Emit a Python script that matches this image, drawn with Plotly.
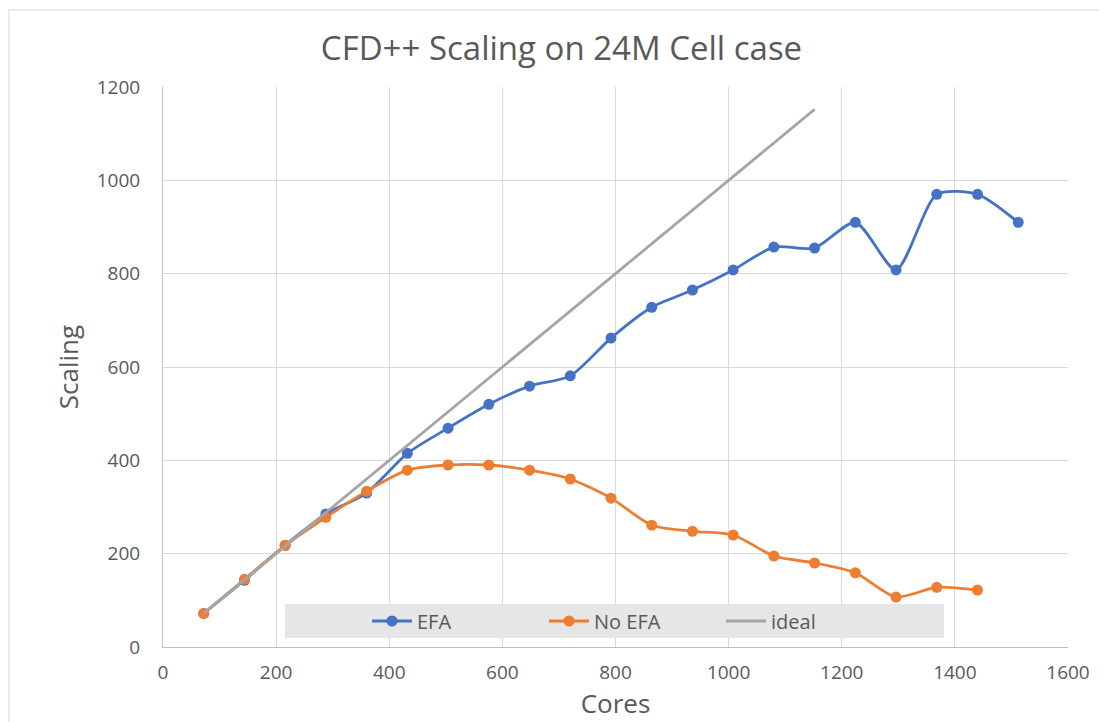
import plotly.graph_objects as go

cores = [72, 144, 216, 288, 360, 432, 504, 576, 648, 720, 792, 864, 936, 1008,
         1080, 1152, 1224, 1296, 1368, 1440, 1512]
efa = [72, 143, 218, 285, 330, 415, 469, 520, 559, 581, 662, 728, 765, 808,
       857, 855, 910, 808, 970, 970, 910]
no_efa = [72, 145, 218, 278, 334, 379, 390, 390, 379, 360, 319, 261, 248, 240,
          195, 180, 159, 107, 128, 122]
ideal_x = cores[:16]
ideal_y = cores[:16]

FONT = "Open Sans"
TXT = "#595959"

# plot area in page pixels (page has an 8px body offset)
PL, PR, PT, PB = 163, 1068, 87, 647
PW, PH = PR - PL, PB - PT


def px(x):
    return (x - PL) / PW


def py(y):
    return (PB - y) / PH


fig = go.Figure()
fig.add_trace(go.Scatter(x=cores, y=efa, name="EFA", mode="lines+markers",
                         line=dict(color="#4472C4", width=2.8, shape="spline", smoothing=0.7),
                         marker=dict(size=11, color="#4472C4")))
fig.add_trace(go.Scatter(x=cores[:len(no_efa)], y=no_efa, name="No EFA", mode="lines+markers",
                         line=dict(color="#ED7D31", width=2.8, shape="spline", smoothing=0.7),
                         marker=dict(size=11, color="#ED7D31")))
fig.add_trace(go.Scatter(x=ideal_x, y=ideal_y, name="ideal", mode="lines",
                         line=dict(color="#A5A5A5", width=2.8)))

fig.update_layout(
    width=1107, height=722,
    margin=dict(l=PL - 8, r=8 + 1107 - PR, t=PT - 8, b=8 + 722 - PB),
    paper_bgcolor="white", plot_bgcolor="white",
    font=dict(family=FONT, color=TXT, size=19),
    title=dict(text="CFD++ Scaling on 24M Cell case", x=0.5, xanchor="center",
               y=1 - 40 / 722, yanchor="middle", font=dict(size=33, color=TXT)),
    xaxis=dict(range=[0, 1600], dtick=200, showgrid=True, gridcolor="#D9D9D9", gridwidth=1,
               showline=True, linecolor="#BFBFBF", linewidth=1, zeroline=False,
               ticks="outside", ticklen=8, tickcolor="rgba(0,0,0,0)",
               tickfont=dict(size=19, color=TXT),
               title=dict(text="Cores", font=dict(size=26, color=TXT), standoff=2)),
    yaxis=dict(range=[0, 1200], dtick=200, showgrid=True, gridcolor="#D9D9D9", gridwidth=1,
               showline=True, linecolor="#BFBFBF", linewidth=1, zeroline=False,
               ticks="outside", ticklen=18, tickcolor="rgba(0,0,0,0)",
               tickfont=dict(size=19, color=TXT),
               title=dict(text="Scaling", font=dict(size=26, color=TXT), standoff=10)),
    showlegend=True,
    legend=dict(orientation="h", x=px(367), xanchor="left",
                y=py(621), yanchor="middle",
                bgcolor="rgba(0,0,0,0)", font=dict(size=20, color=TXT),
                entrywidth=122, entrywidthmode="pixels", itemwidth=40),
    shapes=[
        dict(type="rect", xref="paper", yref="paper", layer="above",
             x0=px(285), x1=px(944), y0=py(638), y1=py(604),
             fillcolor="#E6E6E6", line=dict(width=0)),
        dict(type="line", xref="paper", yref="paper",
             x0=px(3), x1=px(1120), y0=py(10), y1=py(10),
             line=dict(color="#D9D9D9", width=1)),
        dict(type="line", xref="paper", yref="paper",
             x0=px(9), x1=px(9), y0=py(10), y1=py(740),
             line=dict(color="#D9D9D9", width=1)),
    ],
)

fig.write_html("out.html")
